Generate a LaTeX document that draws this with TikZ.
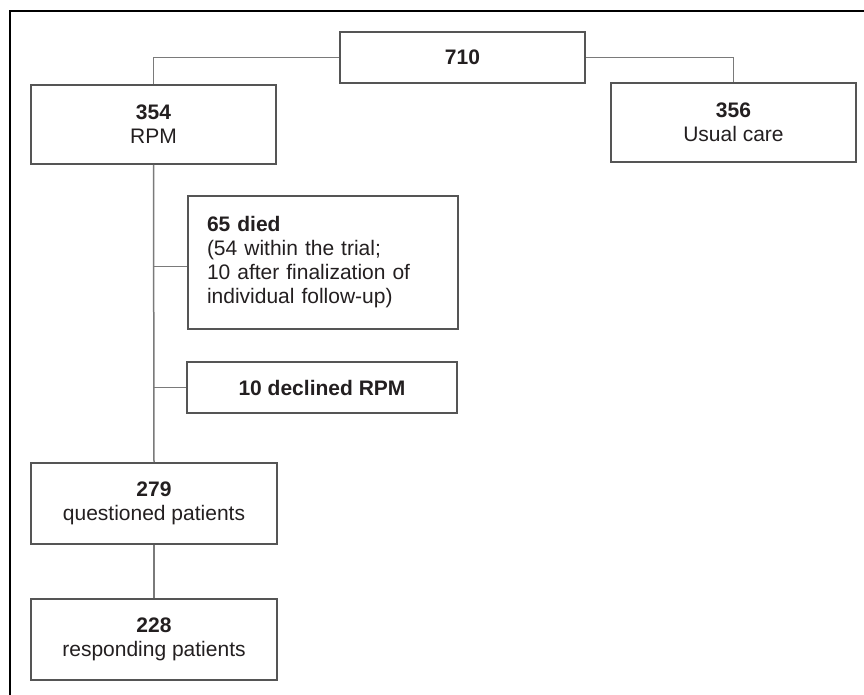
\documentclass[tikz,border=0pt]{standalone}
\usepackage{fontspec}
\setmainfont{Liberation Sans}
\definecolor{boxgray}{HTML}{555555}
\definecolor{linkgray}{HTML}{7A7A7A}
\definecolor{textdark}{HTML}{231F20}
\begin{document}
\begin{tikzpicture}[x=1pt,y=-1pt,
    box/.style={draw=boxgray,line width=1.8pt,fill=white,text=textdark,align=center,
      minimum width=245pt,minimum height=79pt,inner sep=0pt,font=\fontsize{21}{24}\selectfont},
    link/.style={draw=linkgray,line width=1.5pt}]
    \useasboundingbox (0,0) rectangle (864,695);

    % Frame
    \draw[line width=2.5pt,black] (10,695) -- (10,11) -- (864,11);

    % Boxes
    \node at (462.5,57.5) [box,minimum height=51pt] (total) {\textbf{710}};
    \node at (153.5,124.5) [box] (rpm) {\textbf{354}\\RPM};
    \node at (733.5,122.5) [box] (usual) {\textbf{356}\\Usual care};
    \node at (323,262.5) [box,minimum width=270pt,minimum height=133pt,align=left,
      inner xsep=19pt,text width=232pt] (died)
      {\textbf{65 died}\\(54 within the trial;\\10 after finalization of\\individual follow-up)};
    \node at (322,387.5) [box,minimum width=270pt,minimum height=51pt] (declined) {\textbf{10 declined RPM}};
    \node at (154,503.5) [box,minimum width=246pt,minimum height=81pt] (questioned) {\textbf{279}\\questioned patients};
    \node at (154,639.5) [box,minimum width=246pt,minimum height=81pt] (responding) {\textbf{228}\\responding patients};

    % Connectors
    \draw[link] (total.west) -| (rpm.north);
    \draw[link] (total.east) -| (usual.north);
    \draw[link] (rpm.south) -- (questioned.north);
    \draw[link] (questioned.south) -- (responding.north);
    \draw[link] ([yshift=-4pt]died.west) -- ([yshift=-4pt]died.west -| rpm.south);
    \draw[link] (declined.west) -- (declined.west -| rpm.south);
\end{tikzpicture}
\end{document}
